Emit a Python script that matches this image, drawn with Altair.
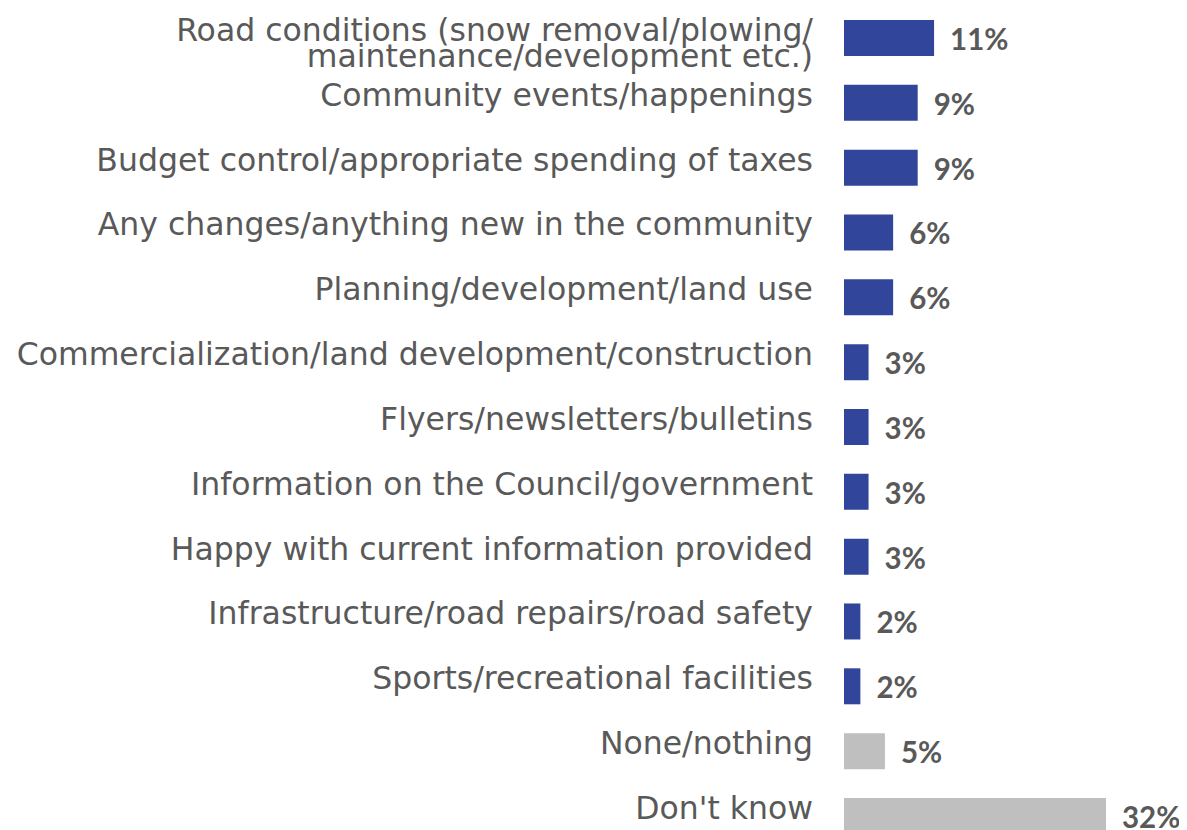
import altair as alt
import pandas as pd

categories = [
    "Road conditions (snow removal/plowing/|maintenance/development etc.)",
    "Community events/happenings",
    "Budget control/appropriate spending of taxes",
    "Any changes/anything new in the community",
    "Planning/development/land use ",
    "Commercialization/land development/construction",
    "Flyers/newsletters/bulletins",
    "Information on the Council/government",
    "Happy with current information provided",
    "Infrastructure/road repairs/road safety",
    "Sports/recreational facilities",
    "None/nothing",
    "Don't know",
]
values = [11, 9, 9, 6, 6, 3, 3, 3, 3, 2, 2, 5, 32]
groups = ["topic"] * 11 + ["other"] * 2

df = pd.DataFrame({
    "order": list(range(len(categories))),
    "category": categories,
    "value": values,
    "group": groups,
})
df["pct"] = [f"{v}%" for v in values]

step = 64.83
n = len(categories)
pin = 1 - 36 / step
y_scale = alt.Scale(domain=categories, range=[12, 12 + step * (n - pin)],
                    paddingInner=pin, paddingOuter=0)
x_scale = alt.Scale(domain=[0, 32], range=[0, 262], nice=False, zero=True)

base = alt.Chart(df)

bars = base.mark_bar().encode(
    y=alt.Y("category:N", scale=y_scale, axis=None, sort=categories),
    x=alt.X("value:Q", scale=x_scale, axis=None),
    color=alt.Color("group:N", scale=alt.Scale(domain=["topic", "other"],
                                               range=["#31459A", "#BFBFBF"]), legend=None),
)

vals = base.mark_text(align="left", baseline="middle", dx=16, dy=3,
                      font="Lato", fontSize=29.5, fontWeight="bold",
                      color="#595959").encode(
    y=alt.Y("category:N", scale=y_scale, axis=None, sort=categories),
    x=alt.X("value:Q", scale=x_scale, axis=None),
    text="pct:N",
)

labels = base.transform_calculate(
    lines="split(datum.category, '|')"
).mark_text(align="right", baseline="middle", dy=-6, lineHeight=26,
            font="DejaVu Sans", fontSize=31.5, color="#595959").encode(
    y=alt.Y("category:N", scale=y_scale, axis=None, sort=categories),
    x=alt.value(-31),
    text="lines:N",
)

chart = alt.layer(bars, labels, vals).properties(
    width=262, height=822,
    autosize=alt.AutoSizeParams(type="none"),
    padding={"left": 836, "top": 0, "right": 73, "bottom": 0},
).configure_view(stroke=None)

chart.save("out.html", embed_options={"renderer": "svg", "actions": False})
